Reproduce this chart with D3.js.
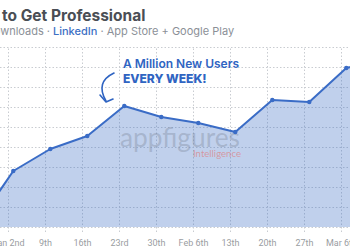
<!DOCTYPE html>
<html>
<head>
<meta charset="utf-8">
<script src="https://cdn.jsdelivr.net/npm/d3@7"></script>
<style>
  body { margin: 0; background: #fff; }
  svg { display: block; }
  .grid line { stroke: #c9ccd1; stroke-dasharray: 1.5 2; stroke-width: 1; }
  .grid path { display: none; }
  .xaxis path, .xaxis line { display: none; }
  .xaxis text { font-family: Roboto, sans-serif; font-size: 9px; fill: #9a9da2; }
</style>
</head>
<body>
<svg class="chart"></svg>
<script>
// weekly values (millions)
var weeks = ["2022-12-27", "2023-01-03", "2023-01-10", "2023-01-17", "2023-01-24", "2023-01-31",
             "2023-02-07", "2023-02-14", "2023-02-21", "2023-02-28", "2023-03-07", "2023-03-14"];
var users = [0.1, 2.8, 3.9, 4.55, 6.05, 5.5, 5.2, 4.75, 6.35, 6.25, 7.95, 8.4];

var tickDates = ["2023-01-02", "2023-01-09", "2023-01-16", "2023-01-23", "2023-01-30",
                 "2023-02-06", "2023-02-13", "2023-02-20", "2023-02-27", "2023-03-06"];
var tickLabels = ["Jan 2nd", "9th", "16th", "23rd", "30th", "Feb 6th", "13th", "20th", "27th", "Mar 6th"];
var yTicks = [0, 1, 2, 3, 4, 5, 6, 7, 8, 9];

var width = 350, height = 250;
var parseTime = d3.timeParse("%Y-%m-%d");

var data = weeks.map(function(w, i) { return { date: parseTime(w), value: users[i] }; });
var ticks = tickDates.map(parseTime);

var x = d3.scaleTime().domain([ticks[0], ticks[ticks.length - 1]]).range([8, 341]);
var y = d3.scaleLinear().domain([0, 9]).range([227, 47]);

var svg = d3.select(".chart").attr("width", width).attr("height", height);

//title + subtitle (left part is cut off in the original crop)
svg.append("text")
   .attr("x", 2).attr("y", 21)
   .style("font-family", "Inter, sans-serif").style("font-weight", 700).style("font-size", "15.5px")
   .style("fill", "#4a4e55")
   .text("to Get Professional");

svg.append("text")
   .attr("x", 50).attr("y", 35)
   .attr("text-anchor", "end")
   .style("font-family", "Inter, sans-serif").style("font-size", "11px").style("fill", "#8b9097")
   .text("Weekly Downloads ·");

var sub = svg.append("text")
   .attr("x", 53).attr("y", 35)
   .style("font-family", "Inter, sans-serif").style("font-size", "11px").style("fill", "#8b9097");
sub.append("tspan").style("fill", "#3d70c4").style("font-weight", 500).text("LinkedIn");
sub.append("tspan").text(" · App Store + Google Play");

//grid
svg.append("g").attr("class", "grid")
   .call(d3.axisLeft(y).tickValues(yTicks).tickSize(-width).tickFormat(""));

svg.append("g").attr("class", "grid")
   .attr("transform", "translate(0,232)")
   .call(d3.axisBottom(x).tickValues(ticks).tickSize(-185).tickFormat(""));

//area + line
var area = d3.area()
  .x(function(d) { return x(d.date); })
  .y0(y(0))
  .y1(function(d) { return y(d.value); });

var valueLine = d3.line()
  .x(function(d) { return x(d.date); })
  .y(function(d) { return y(d.value); });

svg.append("path").datum(data)
   .attr("d", area)
   .style("fill", "#3b6cc4").style("fill-opacity", 0.32);

// watermark
svg.append("text")
   .attr("x", 120).attr("y", 147)
   .attr("textLength", 120).attr("lengthAdjust", "spacingAndGlyphs")
   .style("font-family", "Lato, sans-serif").style("font-weight", 400).style("font-size", "27px")
   .style("fill", "#7f8a9c").style("fill-opacity", 0.4)
   .text("appfigures");
svg.append("text")
   .attr("x", 193).attr("y", 157)
   .attr("textLength", 48).attr("lengthAdjust", "spacingAndGlyphs")
   .style("font-family", "Lato, sans-serif").style("font-size", "9.5px")
   .style("fill", "#e07070").style("fill-opacity", 0.6)
   .text("Intelligence");

svg.append("path").datum(data)
   .attr("d", valueLine)
   .style("fill", "none").style("stroke", "#3a6cc6").style("stroke-width", 2)
   .style("stroke-linejoin", "round");

svg.selectAll(".dot").data(data).enter().append("circle")
   .attr("class", "dot")
   .attr("cx", function(d) { return x(d.date); })
   .attr("cy", function(d) { return y(d.value); })
   .attr("r", 2.2)
   .style("fill", "#3a6cc6");

//x axis labels
svg.append("g").attr("class", "xaxis")
   .attr("transform", "translate(0,232)")
   .call(d3.axisBottom(x).tickValues(ticks).tickSize(0).tickPadding(8)
     .tickFormat(function(d, i) { return tickLabels[i]; }));

//annotation
var note = svg.append("text")
   .style("font-family", "Inter, sans-serif").style("font-size", "12px").style("fill", "#2f64c2");
note.append("tspan").attr("x", 123).attr("y", 68).style("font-weight", 600).text("A Million New Users");
note.append("tspan").attr("x", 123).attr("y", 83).style("font-weight", 800).text("EVERY WEEK!");

svg.append("path")
   .attr("d", "M114,73 Q95,82 106,101")
   .style("fill", "none").style("stroke", "#2f64c2").style("stroke-width", 1.6).style("stroke-linecap", "round");
svg.append("path")
   .attr("d", "M100,95 L106,102 L113,99")
   .style("fill", "none").style("stroke", "#2f64c2").style("stroke-width", 1.6)
   .style("stroke-linecap", "round").style("stroke-linejoin", "round");
</script>
</body>
</html>
